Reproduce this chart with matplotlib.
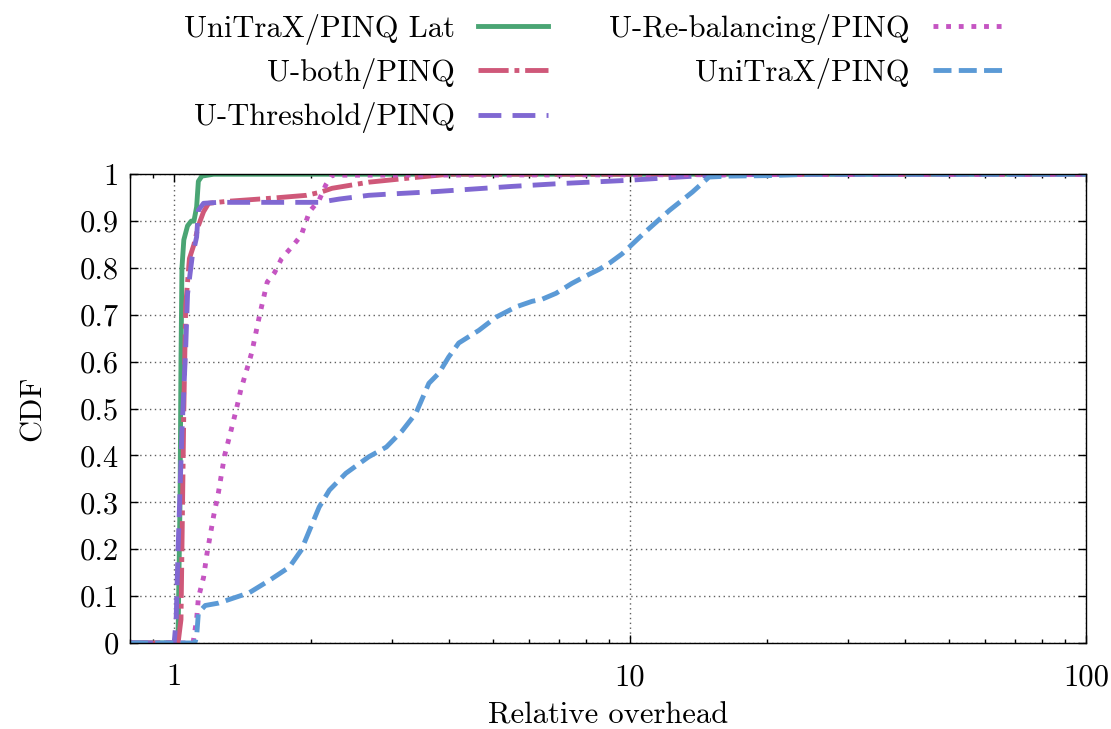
import matplotlib
matplotlib.use("Agg")
import matplotlib.pyplot as plt
from matplotlib.ticker import LogLocator, NullFormatter

plt.rcParams['font.family'] = 'cmr10'
plt.rcParams['axes.formatter.use_mathtext'] = True
plt.rcParams['font.size'] = 22

# CDF curves of relative overhead
lat_x = [0.8, 1.0, 1.02, 1.03, 1.035, 1.04, 1.05, 1.07, 1.09, 1.105, 1.12, 1.13, 1.15, 1.22, 100]
lat_y = [0, 0, 0.02, 0.3, 0.6, 0.8, 0.86, 0.89, 0.9, 0.9, 0.93, 0.985, 0.996, 1.0, 1.0]

both_x = [0.8, 1.02, 1.035, 1.04, 1.05, 1.06, 1.08, 1.105, 1.13, 1.16, 1.19, 1.3, 1.64,
          1.95, 2.1, 2.22, 2.67, 3.45, 4.0, 100]
both_y = [0, 0, 0.05, 0.2, 0.5, 0.72, 0.82, 0.85, 0.89, 0.92, 0.938, 0.942, 0.949,
          0.955, 0.962, 0.97, 0.983, 0.994, 1.0, 1.0]

thr_x = [0.8, 1.0, 1.01, 1.02, 1.04, 1.06, 1.07, 1.095, 1.12, 1.13, 1.16, 1.25, 2.08,
         2.3, 2.67, 3.0, 3.75, 5.5, 7.0, 9.9, 12.8, 15.1, 20, 100]
thr_y = [0, 0, 0.05, 0.2, 0.45, 0.63, 0.745, 0.823, 0.866, 0.923, 0.938, 0.94, 0.94,
         0.947, 0.955, 0.958, 0.963, 0.974, 0.98, 0.987, 0.994, 0.998, 1.0, 1.0]

reb_x = [0.8, 1.1, 1.12, 1.13, 1.16, 1.18, 1.22, 1.25, 1.29, 1.33, 1.37, 1.40, 1.46, 1.48,
         1.54, 1.60, 1.66, 1.72, 1.83, 1.90, 1.98, 2.08, 2.15, 2.22, 100]
reb_y = [0, 0, 0.05, 0.096, 0.14, 0.19, 0.27, 0.32, 0.40, 0.45, 0.50, 0.54, 0.60, 0.62,
         0.70, 0.77, 0.79, 0.82, 0.85, 0.87, 0.92, 0.945, 0.977, 0.998, 1.0]

uni_x = [0.8, 1.11, 1.12, 1.13, 1.17, 1.25, 1.46, 1.62, 1.79, 1.90, 1.98, 2.08, 2.19, 2.38,
         2.67, 2.92, 3.16, 3.39, 3.62, 3.81, 4.0, 4.21, 4.66, 5.08, 5.62, 6.1, 6.4, 6.88,
         7.45, 8.0, 8.55, 9.0, 9.6, 10.8, 12.2, 13.7, 14.9, 16.5, 20, 25, 100]
uni_y = [0, 0, 0.013, 0.064, 0.08, 0.085, 0.107, 0.134, 0.162, 0.198, 0.24, 0.29, 0.326,
         0.362, 0.397, 0.418, 0.452, 0.49, 0.554, 0.576, 0.61, 0.64, 0.667, 0.695, 0.717,
         0.729, 0.733, 0.746, 0.767, 0.783, 0.797, 0.81, 0.83, 0.877, 0.923, 0.962, 0.994,
         0.996, 0.997, 1.0, 1.0]

fig = plt.figure(figsize=(11.11, 7.29), dpi=100)
ax = fig.add_axes([0.117, 0.118, 0.8605, 0.643])

lw = 3.5
ax.plot(lat_x, lat_y, color='#4aa574', lw=lw, label='UniTraX/PINQ Lat')
ax.plot(both_x, both_y, color='#cf5879', lw=lw, dashes=(6.2, 1.2, 1.0, 1.2),
        label='U-both/PINQ')
ax.plot(thr_x, thr_y, color='#8068d2', lw=lw, dashes=(4.7, 2.3), label='U-Threshold/PINQ')
ax.plot(reb_x, reb_y, color='#c555c2', lw=lw, dashes=(1.0, 1.6), label='U-Re-balancing/PINQ')
ax.plot(uni_x, uni_y, color='#5b9ad6', lw=lw, dashes=(3.7, 1.5), label='UniTraX/PINQ')

ax.set_xscale('log')
ax.set_xlim(0.8, 100)
ax.set_ylim(0, 1)
ax.set_xticks([1, 10, 100])
ax.set_xticklabels(['1', '10', '100'])
ax.xaxis.set_minor_locator(LogLocator(base=10, subs=range(2, 10)))
ax.xaxis.set_minor_formatter(NullFormatter())
yt = [i / 10 for i in range(11)]
ax.set_yticks(yt)
ax.set_yticklabels(['0'] + ['%.1f' % v for v in yt[1:-1]] + ['1'])
ax.tick_params(which='both', direction='in', top=True, right=True, width=1)
ax.tick_params(which='major', length=6)
ax.tick_params(which='minor', length=3)
ax.tick_params(axis='x', which='major', pad=15)
ax.tick_params(axis='y', which='major', pad=8)
ax.grid(True, which='major', color='#606060', linestyle=(0, (1, 2.5)), lw=1)
for s in ax.spines.values():
    s.set_linewidth(1)

ax.set_xlabel('Relative overhead', labelpad=8)
ax.set_ylabel('CDF', labelpad=24)

fig.legend(loc='upper right', bbox_to_anchor=(1003 / 1111, 1 - 14 / 729), ncol=2,
           markerfirst=False, frameon=False, borderpad=0, borderaxespad=0,
           handlelength=2.3, handletextpad=0.75, columnspacing=2.0, labelspacing=0.43,
           fontsize=22)

fig.savefig('out.png', dpi=100)
